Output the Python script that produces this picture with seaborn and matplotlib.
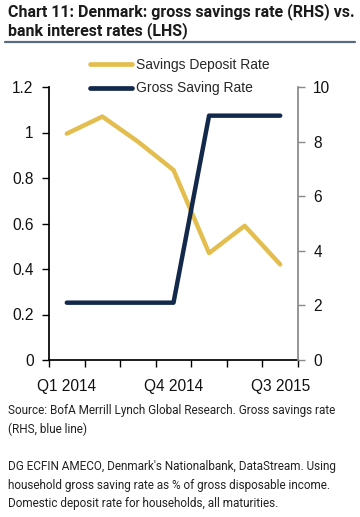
import matplotlib.pyplot as plt
from matplotlib.lines import Line2D
import pandas as pd
import seaborn as sns

quarters = ['Q1 2014', 'Q2 2014', 'Q3 2014', 'Q4 2014', 'Q1 2015', 'Q2 2015', 'Q3 2015']
deposit_rate = [0.995, 1.07, 0.96, 0.835, 0.47, 0.59, 0.42]
saving_rate = [2.1, 2.1, 2.1, 2.1, 8.95, 8.95, 8.95]
shown_labels = ['Q1 2014', 'Q4 2014', 'Q3 2015']

gold = '#E3BE4F'
navy = '#13294B'

sns.set_theme(style='white')
plt.rcParams['font.family'] = ['Liberation Sans', 'DejaVu Sans']

df = pd.DataFrame({'pos': range(len(quarters)), 'quarter': quarters,
                   'deposit': deposit_rate, 'saving': saving_rate})

fig = plt.figure(figsize=(3.6, 5.17), dpi=100)
ax = fig.add_axes([49 / 360, 1 - 360 / 517, 249 / 360, 273 / 517])
ax2 = ax.twinx()

sns.lineplot(data=df, x='pos', y='deposit', ax=ax, color=gold, linewidth=3.2)
sns.lineplot(data=df, x='pos', y='saving', ax=ax2, color=navy, linewidth=3.2)

ax.set_xlim(-0.5, len(quarters) - 0.5)
ax.set_ylim(0, 1.2)
ax2.set_ylim(0, 10)
ax.set_yticks([0, 0.2, 0.4, 0.6, 0.8, 1.0, 1.2])
ax.set_yticklabels(['0', '0.2', '0.4', '0.6', '0.8', '1', '1.2'])
ax2.set_yticks([0, 2, 4, 6, 8, 10])

# boundary ticks without labels, labels centred on quarters
ax.set_xticks([i - 0.5 for i in range(len(quarters) + 1)])
ax.set_xticklabels([])
ax.set_xticks([quarters.index(q) for q in shown_labels], minor=True)
ax.set_xticklabels(shown_labels, minor=True)
ax.tick_params(axis='x', which='minor', length=0, pad=14, labelsize=11.2, labelcolor='#111111')
ax.tick_params(axis='x', which='major', length=5, width=1, color='black', direction='out', bottom=True)
ax.tick_params(axis='y', length=5, width=1, color='black', direction='out', left=True,
               labelsize=11.2, labelcolor='#111111', pad=6)
ax2.tick_params(axis='y', length=5, width=1, color='#888888', direction='out', right=True,
                labelsize=11.2, labelcolor='#111111', pad=6)

ax.set_xlabel('')
ax.set_ylabel('')
ax2.set_ylabel('')
for a in (ax, ax2):
    a.grid(False)
    a.spines['top'].set_visible(False)
ax.spines['right'].set_visible(False)
ax.spines['left'].set_color('black')
ax.spines['bottom'].set_color('black')
ax2.spines['left'].set_visible(False)
ax2.spines['bottom'].set_visible(False)
ax2.spines['right'].set_color('#888888')

handles = [Line2D([], [], color=gold, linewidth=3.4), Line2D([], [], color=navy, linewidth=3.4)]
fig.legend(handles, ['Savings Deposit Rate', 'Gross Saving Rate'], loc='upper left',
           bbox_to_anchor=(90 / 360, 1 - 58 / 517), frameon=False, fontsize=10,
           handlelength=3.0, handletextpad=0.3, labelspacing=0.68, borderpad=0, borderaxespad=0)

fig.text(8 / 360, 1 - 3 / 517, 'Chart 11: Denmark: gross savings rate (RHS) vs.\nbank interest rates (LHS)',
         family=['Roboto', 'DejaVu Sans'], fontweight='bold', fontsize=11.5, color='#1a1a1a',
         va='top', ha='left', linespacing=1.15)
fig.add_artist(Line2D([5 / 360, 355 / 360], [1 - 42 / 517, 1 - 42 / 517], color='#5B6B7F', linewidth=1.6))

note = ('Source: BofA Merrill Lynch Global Research. Gross savings rate\n(RHS, blue line)\n\n'
        "DG ECFIN AMECO, Denmark's Nationalbank, DataStream. Using\n"
        'household gross saving rate as % of gross disposable income.\n'
        'Domestic deposit rate for households, all maturities.')
fig.text(8 / 360, 1 - 404 / 517, note, family=['Roboto', 'DejaVu Sans'], fontsize=8.5,
         color='#222222', va='top', ha='left', linespacing=1.55)

fig.savefig('out.png', dpi=100)
